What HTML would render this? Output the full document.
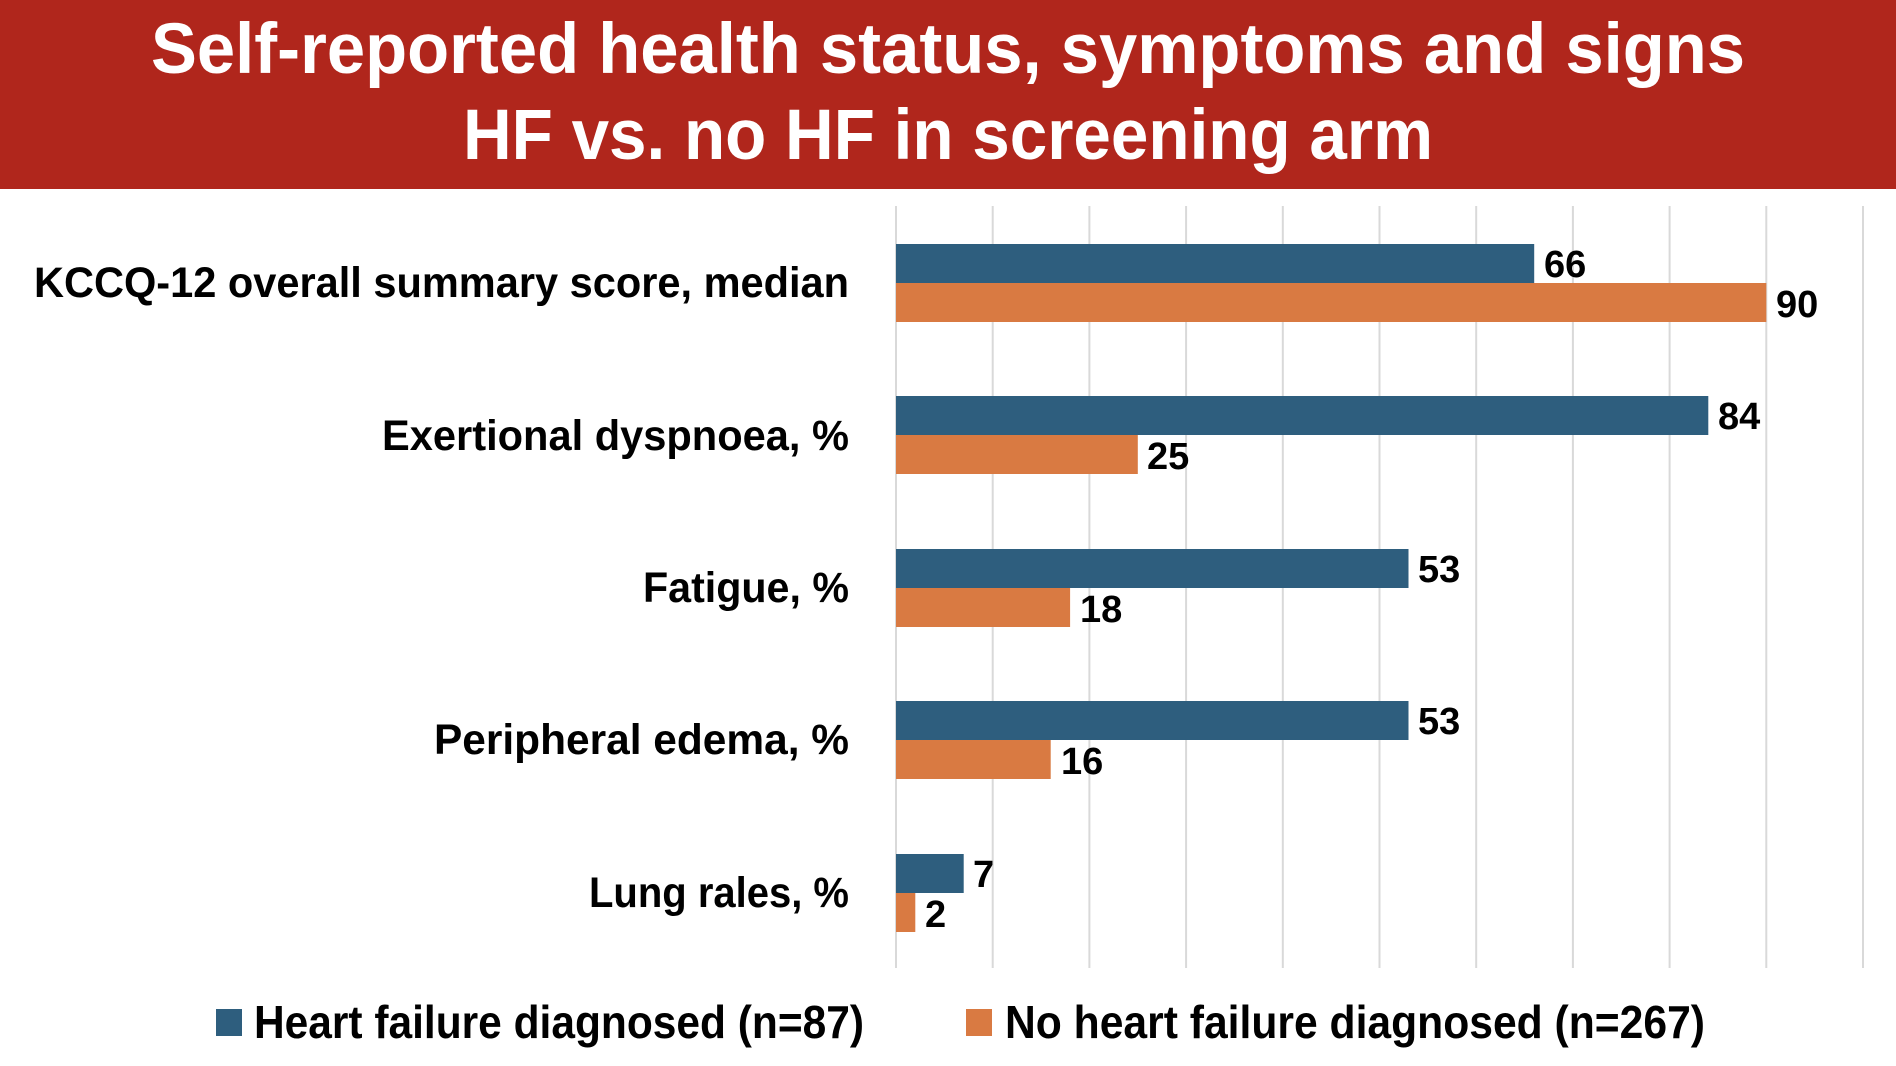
<!DOCTYPE html>
<html><head><meta charset="utf-8"><style>html,body{margin:0;padding:0;background:#fff;}svg{display:block}</style></head>
<body>
<svg width="1896" height="1066" viewBox="0 0 1896 1066" xmlns="http://www.w3.org/2000/svg" font-family="Liberation Sans, sans-serif" font-weight="bold">
<rect x="0" y="0" width="1896" height="189" fill="#B0261C"/>
<text x="948" y="73" text-anchor="middle" fill="#fff" font-size="71" textLength="1594" lengthAdjust="spacingAndGlyphs">Self-reported health status, symptoms and signs</text>
<text x="948" y="159" text-anchor="middle" fill="#fff" font-size="71" textLength="970" lengthAdjust="spacingAndGlyphs">HF vs. no HF in screening arm</text>
<g stroke="#D9D9D9" stroke-width="2">
<line x1="896" y1="206" x2="896" y2="968"/><line x1="992.7" y1="206" x2="992.7" y2="968"/><line x1="1089.4" y1="206" x2="1089.4" y2="968"/><line x1="1186.1" y1="206" x2="1186.1" y2="968"/><line x1="1282.8" y1="206" x2="1282.8" y2="968"/><line x1="1379.5" y1="206" x2="1379.5" y2="968"/><line x1="1476.2" y1="206" x2="1476.2" y2="968"/><line x1="1572.9" y1="206" x2="1572.9" y2="968"/><line x1="1669.6" y1="206" x2="1669.6" y2="968"/><line x1="1766.3" y1="206" x2="1766.3" y2="968"/><line x1="1863" y1="206" x2="1863" y2="968"/>
</g>
<g font-size="43" fill="#000" text-anchor="end">
<text x="849" y="297" textLength="815" lengthAdjust="spacingAndGlyphs">KCCQ-12 overall summary score, median</text>
<text x="849" y="450" textLength="467" lengthAdjust="spacingAndGlyphs">Exertional dyspnoea, %</text>
<text x="849" y="602" textLength="206" lengthAdjust="spacingAndGlyphs">Fatigue, %</text>
<text x="849" y="754" textLength="415" lengthAdjust="spacingAndGlyphs">Peripheral edema, %</text>
<text x="849" y="907" textLength="260" lengthAdjust="spacingAndGlyphs">Lung rales, %</text>
</g>
<g>
<rect x="896" y="244" width="638.2" height="39" fill="#2E5E7E"/>
<rect x="896" y="283" width="870.3" height="39" fill="#D97A42"/>
<rect x="896" y="396" width="812.3" height="39" fill="#2E5E7E"/>
<rect x="896" y="435" width="241.8" height="39" fill="#D97A42"/>
<rect x="896" y="549" width="512.5" height="39" fill="#2E5E7E"/>
<rect x="896" y="588" width="174.1" height="39" fill="#D97A42"/>
<rect x="896" y="701" width="512.5" height="39" fill="#2E5E7E"/>
<rect x="896" y="740" width="154.7" height="39" fill="#D97A42"/>
<rect x="896" y="854" width="67.7" height="39" fill="#2E5E7E"/>
<rect x="896" y="893" width="19.3" height="39" fill="#D97A42"/>
</g>
<g font-size="38" fill="#000">
<text x="1544" y="277">66</text>
<text x="1776" y="317">90</text>
<text x="1718" y="429">84</text>
<text x="1147" y="469">25</text>
<text x="1418" y="582">53</text>
<text x="1080" y="622">18</text>
<text x="1418" y="734">53</text>
<text x="1061" y="774">16</text>
<text x="973" y="887">7</text>
<text x="925" y="927">2</text>
</g>
<rect x="216" y="1009" width="26" height="27" fill="#2E5E7E"/>
<text x="254" y="1038" font-size="46" textLength="610" lengthAdjust="spacingAndGlyphs">Heart failure diagnosed (n=87)</text>
<rect x="966" y="1009" width="26" height="27" fill="#D97A42"/>
<text x="1005" y="1038" font-size="46" textLength="700" lengthAdjust="spacingAndGlyphs">No heart failure diagnosed (n=267)</text>
</svg>
</body></html>
